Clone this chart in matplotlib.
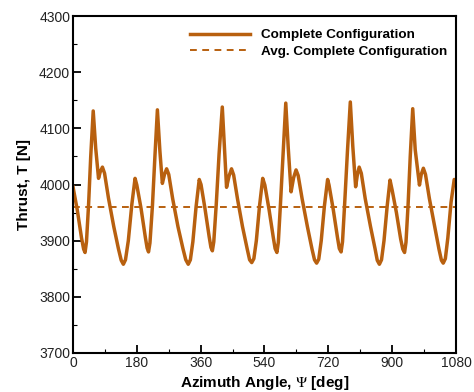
import matplotlib
matplotlib.use('Agg')
import matplotlib.pyplot as plt
from matplotlib.ticker import MultipleLocator

plt.rcParams['font.family'] = ['Liberation Sans', 'DejaVu Sans']
plt.rcParams['mathtext.fontset'] = 'stix'

# azimuth angle [deg], one row per rotor revolution half (180 deg)
psi = [
    0, 12, 24, 30, 34, 38, 44, 50, 57, 64, 72, 77, 83, 89, 100, 115, 128, 136, 142, 148, 156, 166, 175,
    180, 192, 204, 209, 213, 217, 224, 231, 238, 245, 252, 258, 264, 270, 281, 296, 310, 318, 325, 331, 338, 347, 356,
    361, 372, 384, 389, 393, 397, 404, 412, 421, 427, 433, 440, 447, 453, 464, 478, 491, 498, 504, 510, 517, 526, 535,
    541, 553, 565, 570, 575, 579, 585, 593, 600, 607, 615, 622, 629, 635, 646, 661, 674, 681, 687, 693, 700, 709, 718,
    722, 734, 746, 751, 756, 760, 766, 774, 782, 789, 797, 802, 807, 813, 824, 839, 852, 858, 864, 870, 877, 886, 894,
    900, 912, 924, 930, 935, 939, 945, 951, 958, 965, 977, 982, 988, 994, 1005, 1020, 1032, 1039, 1044, 1050, 1057, 1066, 1075, 1080,
]
thrust = [
    3996, 3955, 3905, 3885, 3879, 3898, 3965, 4050, 4131, 4065, 4011, 4023, 4031, 4020, 3976, 3925, 3886, 3865, 3858, 3866, 3900, 3965, 4011,
    3999, 3957, 3906, 3887, 3880, 3896, 3962, 4050, 4133, 4060, 4002, 4018, 4028, 4018, 3975, 3925, 3886, 3866, 3858, 3866, 3898, 3960, 4009,
    4000, 3958, 3907, 3888, 3882, 3898, 3965, 4055, 4138, 4065, 3995, 4015, 4028, 4017, 3974, 3925, 3886, 3866, 3861, 3868, 3900, 3962, 4011,
    3999, 3955, 3905, 3886, 3879, 3897, 3965, 4060, 4145, 4065, 3987, 4012, 4026, 4016, 3975, 3925, 3885, 3866, 3860, 3867, 3900, 3962, 4009,
    3999, 3955, 3905, 3886, 3880, 3898, 3965, 4060, 4147, 4068, 3996, 4018, 4031, 4020, 3975, 3925, 3885, 3865, 3858, 3866, 3900, 3962, 4008,
    3990, 3950, 3903, 3885, 3879, 3897, 3965, 4050, 4135, 4062, 3999, 4018, 4029, 4018, 3975, 3925, 3885, 3865, 3860, 3868, 3905, 3968, 4009, 4005,
]
avg_thrust = 3960
labels = ['Complete Configuration', 'Avg. Complete Configuration']

color = '#b8600f'

fig = plt.figure(figsize=(4.74, 3.92), dpi=100)
ax = fig.add_axes([0.154, 0.0995, 0.808, 0.8595])

ax.plot(psi, thrust, color=color, lw=2.5, label=labels[0], solid_joinstyle='round')
ax.axhline(avg_thrust, color=color, lw=1.4, ls=(0, (3.5, 2.8)), label=labels[1])

ax.set_xlim(0, 1080)
ax.set_ylim(3700, 4300)
ax.xaxis.set_major_locator(MultipleLocator(180))
ax.xaxis.set_minor_locator(MultipleLocator(90))
ax.yaxis.set_major_locator(MultipleLocator(100))
ax.yaxis.set_minor_locator(MultipleLocator(50))
ax.tick_params(which='both', direction='in', top=False, right=False, labelsize=10, labelcolor='#222222', pad=2)
ax.tick_params(which='major', length=6, width=1.3)
ax.tick_params(which='minor', length=3, width=0.8)
for s in ax.spines.values():
    s.set_linewidth(1.5)

ax.set_xlabel(r'Azimuth Angle, $\Psi$ [deg]', fontsize=11, fontweight='bold', labelpad=3)
ax.set_ylabel('Thrust, T [N]', fontsize=11, fontweight='bold', labelpad=6)

ax.legend(loc='upper left', bbox_to_anchor=(0.305, 0.962), frameon=False,
          prop={'weight': 'bold', 'size': 9.7}, handlelength=4.5, borderpad=0, borderaxespad=0,
          handletextpad=0.8, labelspacing=0.3)

fig.savefig('out.png', dpi=100)
